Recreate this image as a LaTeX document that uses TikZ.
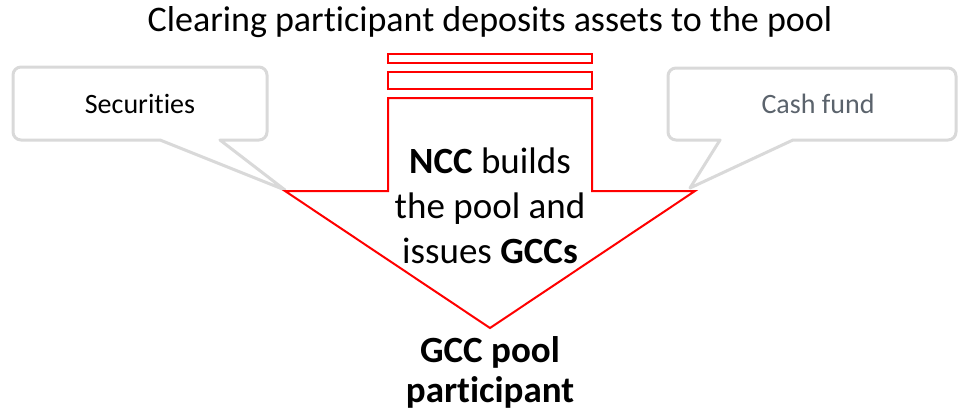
\documentclass[tikz,border=0pt]{standalone}
\usepackage{fontspec}
\setmainfont{Carlito}[Ligatures=NoCommon]
\definecolor{calloutgray}{HTML}{D9D9D9}
\definecolor{cashgray}{HTML}{5B636C}
\definecolor{arrowred}{HTML}{FF0000}
\begin{document}
\begin{tikzpicture}[x=1pt,y=-1pt,
  callout/.style={draw=calloutgray, line width=3pt, fill=white, line join=round},
  redline/.style={draw=arrowred, line width=2pt, line join=miter},
  titletext/.style={font=\fontsize{36}{42}\selectfont, anchor=center},
  boxtext/.style={font=\fontsize{28}{32}\selectfont, anchor=center},
  bigtext/.style={font=\fontsize{37}{45}\selectfont, align=center, anchor=center}]
\useasboundingbox (0,0) rectangle (959,413);
% callouts
\draw[callout] (160,140) -- (285,190) -- (220,140) [rounded corners=8pt] -- (267,140) -- (267,67) -- (13,67) -- (13,140) [sharp corners] -- cycle;
\draw[callout] (720,140) -- (690,188) -- (793,140) [rounded corners=8pt] -- (956,140) -- (956,68) -- (668,68) -- (668,140) [sharp corners] -- cycle;
% red arrow
\draw[redline] (388,54) rectangle (592,63);
\draw[redline] (388,72) rectangle (592,89);
\draw[redline] (388,98) -- (592,98) -- (592,191) -- (695,191) -- (490,328) -- (285,191) -- (388,191) -- cycle;
% texts
\node[titletext] (title) at (490,22) {Clearing participant deposits assets to the pool};
\node[boxtext] (sec) at (140,104) {Securities};
\node[boxtext, text=cashgray] (cash) at (818,104) {Cash fund};
\node[bigtext] (ncc) at (490,206) {\textbf{NCC} builds\\the pool and\\issues \textbf{GCCs}};
\node[bigtext, font=\fontsize{37}{40}\selectfont\bfseries] (gcc) at (490,372) {GCC pool\\participant};
\end{tikzpicture}
\end{document}
